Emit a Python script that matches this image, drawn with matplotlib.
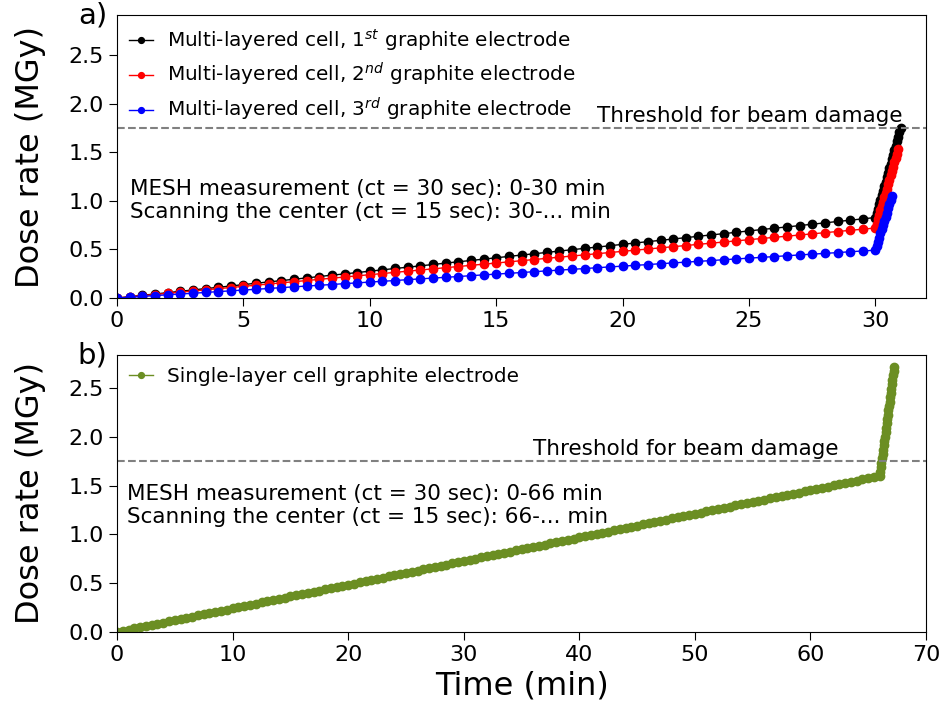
import matplotlib
matplotlib.use("Agg")
import matplotlib.pyplot as plt

# a) multi-layered cell: MESH measurement every 0.5 min up to 30 min
time_mesh_a = [0, 0.5, 1, 1.5, 2, 2.5, 3, 3.5, 4, 4.5, 5, 5.5, 6, 6.5, 7, 7.5, 8, 8.5, 9, 9.5,
               10, 10.5, 11, 11.5, 12, 12.5, 13, 13.5, 14, 14.5, 15, 15.5, 16, 16.5, 17, 17.5, 18, 18.5, 19, 19.5,
               20, 20.5, 21, 21.5, 22, 22.5, 23, 23.5, 24, 24.5, 25, 25.5, 26, 26.5, 27, 27.5, 28, 28.5, 29, 29.5,
               30]
dose_1st = [0.000, 0.014, 0.028, 0.041, 0.055, 0.069, 0.083, 0.097, 0.110, 0.124,
            0.138, 0.152, 0.166, 0.179, 0.193, 0.207, 0.221, 0.235, 0.248, 0.262,
            0.276, 0.290, 0.304, 0.317, 0.331, 0.345, 0.359, 0.373, 0.386, 0.400,
            0.414, 0.428, 0.442, 0.455, 0.469, 0.483, 0.497, 0.511, 0.524, 0.538,
            0.552, 0.566, 0.580, 0.593, 0.607, 0.621, 0.635, 0.649, 0.662, 0.676,
            0.690, 0.704, 0.718, 0.731, 0.745, 0.759, 0.773, 0.787, 0.800, 0.814,
            0.828]
dose_2nd = [0.000, 0.012, 0.024, 0.036, 0.048, 0.060, 0.072, 0.084, 0.096, 0.108,
            0.120, 0.132, 0.144, 0.156, 0.168, 0.180, 0.192, 0.204, 0.216, 0.228,
            0.240, 0.252, 0.264, 0.276, 0.288, 0.300, 0.312, 0.324, 0.336, 0.348,
            0.360, 0.372, 0.384, 0.396, 0.408, 0.420, 0.432, 0.444, 0.456, 0.468,
            0.480, 0.492, 0.504, 0.516, 0.528, 0.540, 0.552, 0.564, 0.576, 0.588,
            0.600, 0.612, 0.624, 0.636, 0.648, 0.660, 0.672, 0.684, 0.696, 0.708,
            0.720]
dose_3rd = [0.000, 0.008, 0.016, 0.025, 0.033, 0.041, 0.049, 0.057, 0.066, 0.074,
            0.082, 0.090, 0.098, 0.107, 0.115, 0.123, 0.131, 0.139, 0.148, 0.156,
            0.164, 0.172, 0.180, 0.189, 0.197, 0.205, 0.213, 0.221, 0.230, 0.238,
            0.246, 0.254, 0.262, 0.271, 0.279, 0.287, 0.295, 0.303, 0.312, 0.320,
            0.328, 0.336, 0.344, 0.353, 0.361, 0.369, 0.377, 0.385, 0.394, 0.402,
            0.410, 0.418, 0.426, 0.435, 0.443, 0.451, 0.459, 0.467, 0.476, 0.484,
            0.492]

# a) scanning the center after 30 min
time_scan_1st = [30.05, 30.10, 30.15, 30.20, 30.25, 30.30, 30.35, 30.40, 30.45, 30.50,
                 30.55, 30.60, 30.65, 30.70, 30.75, 30.80, 30.85, 30.90, 30.95, 31.00]
scan_1st = [0.874, 0.920, 0.966, 1.012, 1.059, 1.105, 1.151, 1.197, 1.243, 1.289,
            1.335, 1.381, 1.427, 1.473, 1.520, 1.566, 1.612, 1.658, 1.704, 1.750]
time_scan_2nd = [30.05, 30.10, 30.15, 30.20, 30.25, 30.30, 30.35, 30.40, 30.45, 30.50,
                 30.55, 30.60, 30.65, 30.70, 30.75, 30.80, 30.85, 30.90]
scan_2nd = [0.765, 0.810, 0.855, 0.900, 0.945, 0.990, 1.035, 1.080, 1.125, 1.170,
            1.215, 1.260, 1.305, 1.350, 1.395, 1.440, 1.485, 1.530]
time_scan_3rd = [30.05, 30.10, 30.15, 30.20, 30.25, 30.30, 30.35, 30.40, 30.45, 30.50,
                 30.55, 30.60, 30.65]
scan_3rd = [0.535, 0.578, 0.621, 0.664, 0.707, 0.749, 0.792, 0.835, 0.878, 0.921,
            0.964, 1.007, 1.050]

# b) single-layer cell: MESH every 0.5 min up to 66 min, then center scan
time_mesh_b = [0, 0.5, 1, 1.5, 2, 2.5, 3, 3.5, 4, 4.5, 5, 5.5, 6, 6.5, 7, 7.5, 8, 8.5, 9, 9.5,
               10, 10.5, 11, 11.5, 12, 12.5, 13, 13.5, 14, 14.5, 15, 15.5, 16, 16.5, 17, 17.5, 18, 18.5, 19, 19.5,
               20, 20.5, 21, 21.5, 22, 22.5, 23, 23.5, 24, 24.5, 25, 25.5, 26, 26.5, 27, 27.5, 28, 28.5, 29, 29.5,
               30, 30.5, 31, 31.5, 32, 32.5, 33, 33.5, 34, 34.5, 35, 35.5, 36, 36.5, 37, 37.5, 38, 38.5, 39, 39.5,
               40, 40.5, 41, 41.5, 42, 42.5, 43, 43.5, 44, 44.5, 45, 45.5, 46, 46.5, 47, 47.5, 48, 48.5, 49, 49.5,
               50, 50.5, 51, 51.5, 52, 52.5, 53, 53.5, 54, 54.5, 55, 55.5, 56, 56.5, 57, 57.5, 58, 58.5, 59, 59.5,
               60, 60.5, 61, 61.5, 62, 62.5, 63, 63.5, 64, 64.5, 65, 65.5, 66]
dose_single = [0.000, 0.012, 0.024, 0.036, 0.048, 0.061, 0.073, 0.085, 0.097, 0.109,
               0.121, 0.133, 0.145, 0.158, 0.170, 0.182, 0.194, 0.206, 0.218, 0.230,
               0.242, 0.255, 0.267, 0.279, 0.291, 0.303, 0.315, 0.327, 0.339, 0.352,
               0.364, 0.376, 0.388, 0.400, 0.412, 0.424, 0.436, 0.448, 0.461, 0.473,
               0.485, 0.497, 0.509, 0.521, 0.533, 0.545, 0.558, 0.570, 0.582, 0.594,
               0.606, 0.618, 0.630, 0.642, 0.655, 0.667, 0.679, 0.691, 0.703, 0.715,
               0.727, 0.739, 0.752, 0.764, 0.776, 0.788, 0.800, 0.812, 0.824, 0.836,
               0.848, 0.861, 0.873, 0.885, 0.897, 0.909, 0.921, 0.933, 0.945, 0.958,
               0.970, 0.982, 0.994, 1.006, 1.018, 1.030, 1.042, 1.055, 1.067, 1.079,
               1.091, 1.103, 1.115, 1.127, 1.139, 1.152, 1.164, 1.176, 1.188, 1.200,
               1.212, 1.224, 1.236, 1.248, 1.261, 1.273, 1.285, 1.297, 1.309, 1.321,
               1.333, 1.345, 1.358, 1.370, 1.382, 1.394, 1.406, 1.418, 1.430, 1.442,
               1.455, 1.467, 1.479, 1.491, 1.503, 1.515, 1.527, 1.539, 1.552, 1.564,
               1.576, 1.588, 1.600]
time_scan_single = [66.05, 66.10, 66.15, 66.20, 66.25, 66.30, 66.35, 66.40, 66.45, 66.50,
                    66.55, 66.60, 66.65, 66.70, 66.75, 66.80, 66.85, 66.90, 66.95, 67.00,
                    67.05, 67.10, 67.15, 67.20, 67.25]
scan_single = [1.645, 1.690, 1.734, 1.779, 1.824, 1.869, 1.914, 1.958, 2.003, 2.048,
               2.093, 2.138, 2.182, 2.227, 2.272, 2.317, 2.362, 2.406, 2.451, 2.496,
               2.541, 2.586, 2.630, 2.675, 2.720]

threshold = 1.75

fig = plt.figure(figsize=(9.47, 7.26), dpi=100)
ax1 = fig.add_axes([0.1236, 0.5895, 0.8542, 0.3898])
ax2 = fig.add_axes([0.1236, 0.1295, 0.8542, 0.3815])

legend_kw = dict(loc='upper left', frameon=False, fontsize=14.4, markerscale=0.7,
                 handlelength=1.2, handletextpad=0.7, borderaxespad=0.2, labelspacing=0.4)

# Panel a
ax1.plot(time_mesh_a + time_scan_1st, dose_1st + scan_1st, 'o-', color='k', ms=6, lw=1,
         label=r'Multi-layered cell, 1$^{st}$ graphite electrode')
ax1.plot(time_mesh_a + time_scan_2nd, dose_2nd + scan_2nd, 'o-', color='r', ms=6, lw=1,
         label=r'Multi-layered cell, 2$^{nd}$ graphite electrode')
ax1.plot(time_mesh_a + time_scan_3rd, dose_3rd + scan_3rd, 'o-', color='b', ms=6, lw=1,
         label=r'Multi-layered cell, 3$^{rd}$ graphite electrode')
ax1.axhline(threshold, color='grey', ls='--', lw=1.5)
ax1.text(19, threshold + 0.06, 'Threshold for beam damage', fontsize=15.5)
ax1.text(0.5, 1.0, 'MESH measurement (ct = 30 sec): 0-30 min\nScanning the center (ct = 15 sec): 30-... min',
         fontsize=15.5, va='center', linespacing=1.2)
ax1.set_xlim(0, 32)
ax1.set_ylim(0, 2.91)
ax1.set_xticks([0, 5, 10, 15, 20, 25, 30])
ax1.set_ylabel('Dose rate (MGy)', fontsize=23, labelpad=16)
ax1.legend(**legend_kw)
ax1.text(-0.012, 1.0, 'a)', transform=ax1.transAxes, ha='right', va='center', fontsize=21)

# Panel b
ax2.plot(time_mesh_b + time_scan_single, dose_single + scan_single, 'o-', color='olivedrab',
         ms=6, lw=1, label='Single-layer cell graphite electrode')
ax2.axhline(threshold, color='grey', ls='--', lw=1.5)
ax2.text(36, threshold + 0.06, 'Threshold for beam damage', fontsize=15.5)
ax2.text(0.9, 1.3, 'MESH measurement (ct = 30 sec): 0-66 min\nScanning the center (ct = 15 sec): 66-... min',
         fontsize=15.5, va='center', linespacing=1.2)
ax2.set_xlim(0, 70)
ax2.set_ylim(0, 2.84)
ax2.set_xlabel('Time (min)', fontsize=23)
ax2.set_ylabel('Dose rate (MGy)', fontsize=23, labelpad=16)
ax2.legend(**legend_kw)
ax2.text(-0.012, 1.0, 'b)', transform=ax2.transAxes, ha='right', va='center', fontsize=21)

for ax in (ax1, ax2):
    ax.tick_params(labelsize=16, length=6)

fig.savefig('out.png', dpi=100)
